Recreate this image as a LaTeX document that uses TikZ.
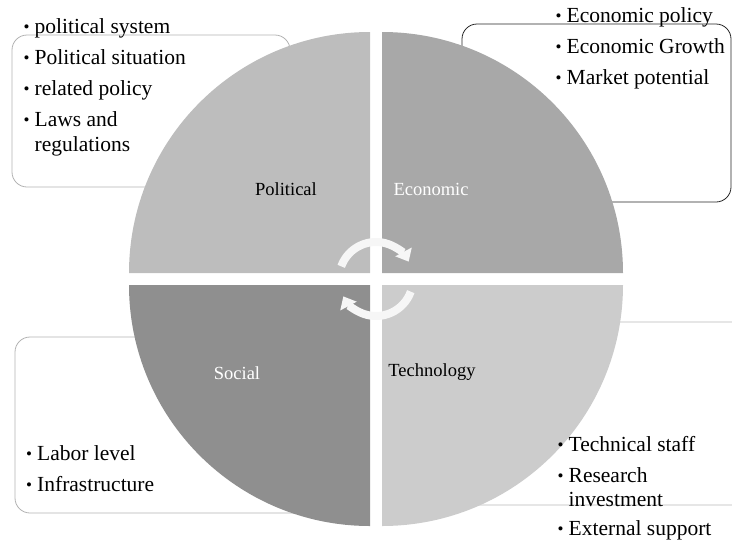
\documentclass[tikz,border=0pt]{standalone}
\usepackage{fontspec}
\setmainfont{Liberation Serif}
\usetikzlibrary{arrows.meta}

\definecolor{polgray}{gray}{0.74}
\definecolor{ecogray}{gray}{0.66}
\definecolor{socgray}{gray}{0.56}
\definecolor{tecgray}{gray}{0.80}

\newcommand{\itm}[1]{\makebox[11pt][l]{\raisebox{0.5pt}{\fontsize{17}{17}\selectfont •}}#1}

\begin{document}
\begin{tikzpicture}[x=1pt, y=-1pt,
		box/.style = {rounded corners=15pt, line width=0.8pt},
		item/.style = {anchor=base west, inner sep=0pt, font=\fontsize{21.5}{25}\selectfont},
		quad/.style = {anchor=base, inner sep=0pt, font=\fontsize{18.5}{22}\selectfont},
		turn/.style = {draw=white!93!gray, line width=8pt, -{Triangle[width=18pt,length=11pt,fill=white!93!gray]}}]
			
			\useasboundingbox (0,0) rectangle (732,542);
			\clip (0,0) rectangle (732,542);
			
			\draw[box, draw=gray!60] (12,35) rectangle (290,187);
			\draw[box, draw=black!85] (462,24) rectangle (731,202);
			\draw[box, draw=gray!60] (15,337) rectangle (330,513);
			\draw[box, draw=gray!55] (430,322) rectangle (760,505);
			
			\coordinate (c) at (376,279);
			
			\fill[polgray] (370,273) -- ++(90:241pt) arc[start angle=90, end angle=180, radius=241pt] -- cycle;
			\fill[ecogray] (382,273) -- ++(0:241pt) arc[start angle=0, end angle=90, radius=241pt] -- cycle;
			\fill[socgray] (370,285) -- ++(180:241pt) arc[start angle=180, end angle=270, radius=241pt] -- cycle;
			\fill[tecgray] (382,285) -- ++(270:241pt) arc[start angle=270, end angle=360, radius=241pt] -- cycle;
			
			\draw[turn] ([shift={(160:37pt)}]c) arc[start angle=160, end angle=28, radius=37pt];
			\draw[turn] ([shift={(-20:37pt)}]c) arc[start angle=-20, end angle=-152, radius=37pt];
			
			\node[quad] (pol) at (286,195) {Political};
			\node[quad, text=white] (eco) at (431,195) {Economic};
			\node[quad, text=white] (soc) at (237,379) {Social};
			\node[quad] (tec) at (432,376) {Technology};
			
			\node[item] (p1) at (23.5,33) {\itm{political system}};
			\node[item] (p2) at (23.5,64) {\itm{Political situation}};
			\node[item] (p3) at (23.5,95) {\itm{related policy}};
			\node[item] (p4) at (23.5,126) {\itm{Laws and}};
			\node[item] (p5) at (34.5,151) {regulations};
			
			\node[item] (e1) at (555.5,22) {\itm{Economic policy}};
			\node[item] (e2) at (555.5,53) {\itm{Economic Growth}};
			\node[item] (e3) at (555.5,84) {\itm{Market potential}};
			
			\node[item] (s1) at (26,460) {\itm{Labor level}};
			\node[item] (s2) at (26,491) {\itm{Infrastructure}};
			
			\node[item] (t1) at (557.5,451) {\itm{Technical staff}};
			\node[item] (t2) at (557.5,482) {\itm{Research}};
			\node[item] (t3) at (568.5,506) {investment};
			\node[item] (t4) at (557.5,535) {\itm{External support}};
			
		\end{tikzpicture}
\end{document}
